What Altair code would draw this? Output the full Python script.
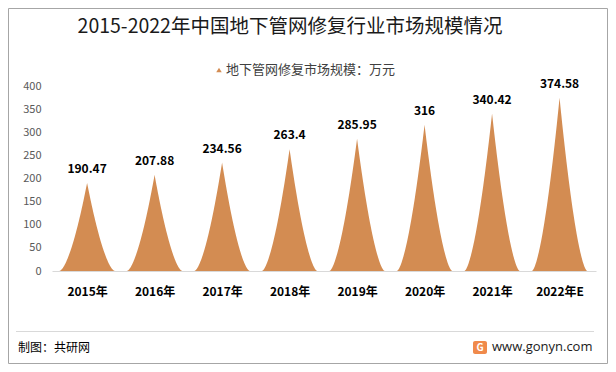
import altair as alt
import numpy as np
import pandas as pd

years = ["2015年", "2016年", "2017年", "2018年", "2019年", "2020年", "2021年", "2022年E"]
values = [190.47, 207.88, 234.56, 263.4, 285.95, 316, 340.42, 374.58]
value_labels = ["190.47", "207.88", "234.56", "263.4", "285.95", "316", "340.42", "374.58"]
y_ticks = [0, 50, 100, 150, 200, 250, 300, 350, 400]

title_text = "2015-2022年中国地下管网修复行业市场规模情况"
legend_text = "地下管网修复市场规模：万元"
source_text = "制图：共研网"
site_text = "www.gonyn.com"

FONT = "Noto Sans CJK SC"
COLOR = "#D38C52"

# spike (pointed) shape for each category, derived from its value
half_w = 0.41
power = 1.6
ts = np.linspace(-1, 1, 121)
rows = []
for i, (yr, v) in enumerate(zip(years, values)):
    for t in ts:
        rows.append({"cat": yr, "px": float(i + half_w * t), "py": float(v * (1 - abs(t)) ** power)})
shape = pd.DataFrame(rows)

labels = pd.DataFrame({"idx": list(range(len(years))), "value": values, "label": value_labels})

label_expr = "[" + ",".join("'%s'" % y for y in years) + "][datum.value]"

xscale = alt.Scale(domain=[-0.52, len(years) - 0.46], nice=False, zero=False)
yscale = alt.Scale(domain=[0, 400], nice=False)

xaxis = alt.Axis(values=list(range(len(years))), labelExpr=label_expr,
                 grid=False, ticks=False, domainColor="#d9d9d9", domainWidth=1,
                 labelFont=FONT, labelFontSize=12, labelFontWeight="bold",
                 labelColor="#000000", labelPadding=15, labelOverlap=False)
yaxis = alt.Axis(values=y_ticks, grid=False, ticks=False, domain=False,
                 labelFont=FONT, labelFontSize=11, labelColor="#595959",
                 labelPadding=11, labelOverlap=False)

area = alt.Chart(shape).mark_area(color=COLOR, opacity=1).encode(
    x=alt.X("px:Q", scale=xscale, title=None, axis=xaxis),
    y=alt.Y("py:Q", scale=yscale, stack=None, title=None, axis=yaxis),
    detail="cat:N",
)

text = alt.Chart(labels).mark_text(font=FONT, fontSize=12, fontWeight="bold",
                                   color="#000000", baseline="bottom", dy=-7).encode(
    x=alt.X("idx:Q", scale=xscale, title=None, axis=xaxis),
    y=alt.Y("value:Q", scale=yscale, title=None, axis=yaxis),
    text="label:N",
)

# decorations (plot origin at page (52, 86))
ox, oy = 52, 86
deco = pd.DataFrame({"a": [0]})

title = alt.Chart(deco).mark_text(text=title_text, font=FONT, fontSize=19.5, color="#1a1a1a",
                                  align="center", baseline="middle").encode(
    x=alt.value(290 - ox), y=alt.value(27 - oy))

legend_sym = alt.Chart(deco).mark_point(shape="triangle-up", filled=True, size=30,
                                        color=COLOR, opacity=1).encode(
    x=alt.value(219 - ox), y=alt.value(70 - oy))
legend_txt = alt.Chart(deco).mark_text(text=legend_text, font=FONT, fontSize=13, color="#404040",
                                       align="left", baseline="middle").encode(
    x=alt.value(226 - ox), y=alt.value(70 - oy))

sep = alt.Chart(deco).mark_rule(color="#d9d9d9", strokeWidth=1).encode(
    x=alt.value(16 - ox), x2=alt.value(594 - ox), y=alt.value(331.5 - oy))

source = alt.Chart(deco).mark_text(text=source_text, font=FONT, fontSize=12, color="#000000",
                                   align="left", baseline="middle").encode(
    x=alt.value(18 - ox), y=alt.value(348 - oy))

logo = alt.Chart(deco).mark_rect(color="#F08A4B", cornerRadius=2).encode(
    x=alt.value(473 - ox), x2=alt.value(487 - ox), y=alt.value(341 - oy), y2=alt.value(354 - oy))
logo_g = alt.Chart(deco).mark_text(text="G", font=FONT, fontSize=10, fontWeight="bold",
                                   color="#ffffff", align="center", baseline="middle").encode(
    x=alt.value(480 - ox), y=alt.value(347.5 - oy))
site = alt.Chart(deco).mark_text(text=site_text, font="Open Sans", fontSize=13, color="#1a1a1a",
                                 align="left", baseline="middle").encode(
    x=alt.value(492 - ox), y=alt.value(347 - oy))

border = alt.Chart(deco).mark_rect(fill=None, stroke="#a6a6a6", strokeWidth=1, filled=False).encode(
    x=alt.value(8.5 - ox), x2=alt.value(607.5 - ox), y=alt.value(8.5 - oy), y2=alt.value(363.5 - oy))

chart = alt.layer(area, text, border, title, legend_sym, legend_txt, sep, source, logo, logo_g, site).properties(
    width=544, height=185,
    padding={"left": 44, "top": 78, "right": 12, "bottom": 93},
    autosize=alt.AutoSizeParams(type="none"),
    background="#ffffff",
).configure_view(stroke=None)

chart.save("out.html", embed_options={"renderer": "svg", "actions": False})
